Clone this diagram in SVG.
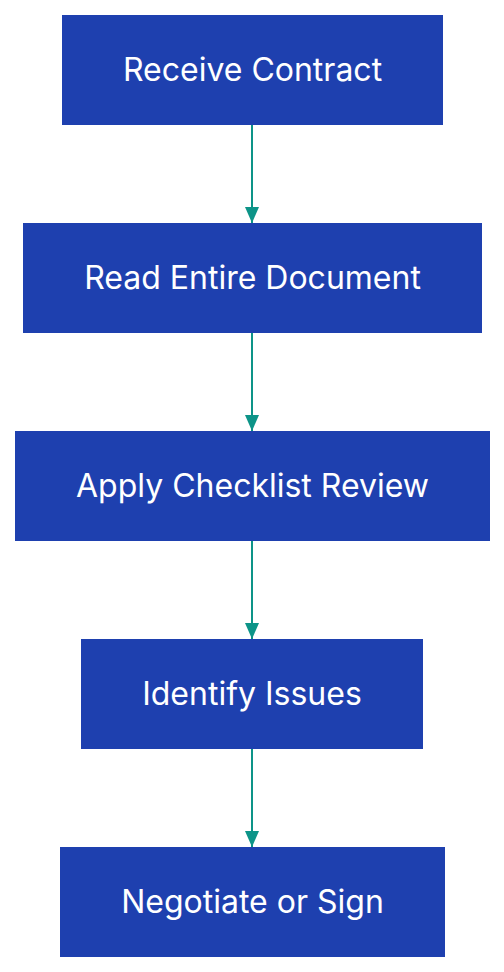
<svg xmlns="http://www.w3.org/2000/svg" width="504" height="972" viewBox="0 0 504 972">
<style>
.node rect{fill:#1e40af;}
.node text{fill:#ffffff;font-family:Inter,"Noto Sans",sans-serif;font-size:32px;text-anchor:middle;dominant-baseline:central;}
.edge{stroke:#0d9488;stroke-width:2;fill:none;marker-end:url(#arr);}
</style>
<defs>
<marker id="arr" viewBox="0 0 16 14" refX="16" refY="7" markerWidth="16" markerHeight="14" markerUnits="userSpaceOnUse" orient="auto">
<path d="M0,0 L16,7 L0,14 Z" fill="#0d9488"/>
</marker>
</defs>
<rect width="504" height="972" fill="#ffffff"/>
<g id="connectors">
<line class="edge" x1="252" y1="125" x2="252" y2="223"/>
<line class="edge" x1="252" y1="333" x2="252" y2="431"/>
<line class="edge" x1="252" y1="541" x2="252" y2="639"/>
<line class="edge" x1="252" y1="749" x2="252" y2="847"/>
</g>
<g id="n1" class="node"><rect x="62" y="15" width="381" height="110"/><text x="252.5" y="69">Receive Contract</text></g>
<g id="n2" class="node"><rect x="23" y="223" width="459" height="110"/><text x="252.5" y="277">Read Entire Document</text></g>
<g id="n3" class="node"><rect x="15" y="431" width="475" height="110"/><text x="252.5" y="485">Apply Checklist Review</text></g>
<g id="n4" class="node"><rect x="81" y="639" width="342" height="110"/><text x="252" y="693">Identify Issues</text></g>
<g id="n5" class="node"><rect x="60" y="847" width="385" height="110"/><text x="252.5" y="901">Negotiate or Sign</text></g>
</svg>
